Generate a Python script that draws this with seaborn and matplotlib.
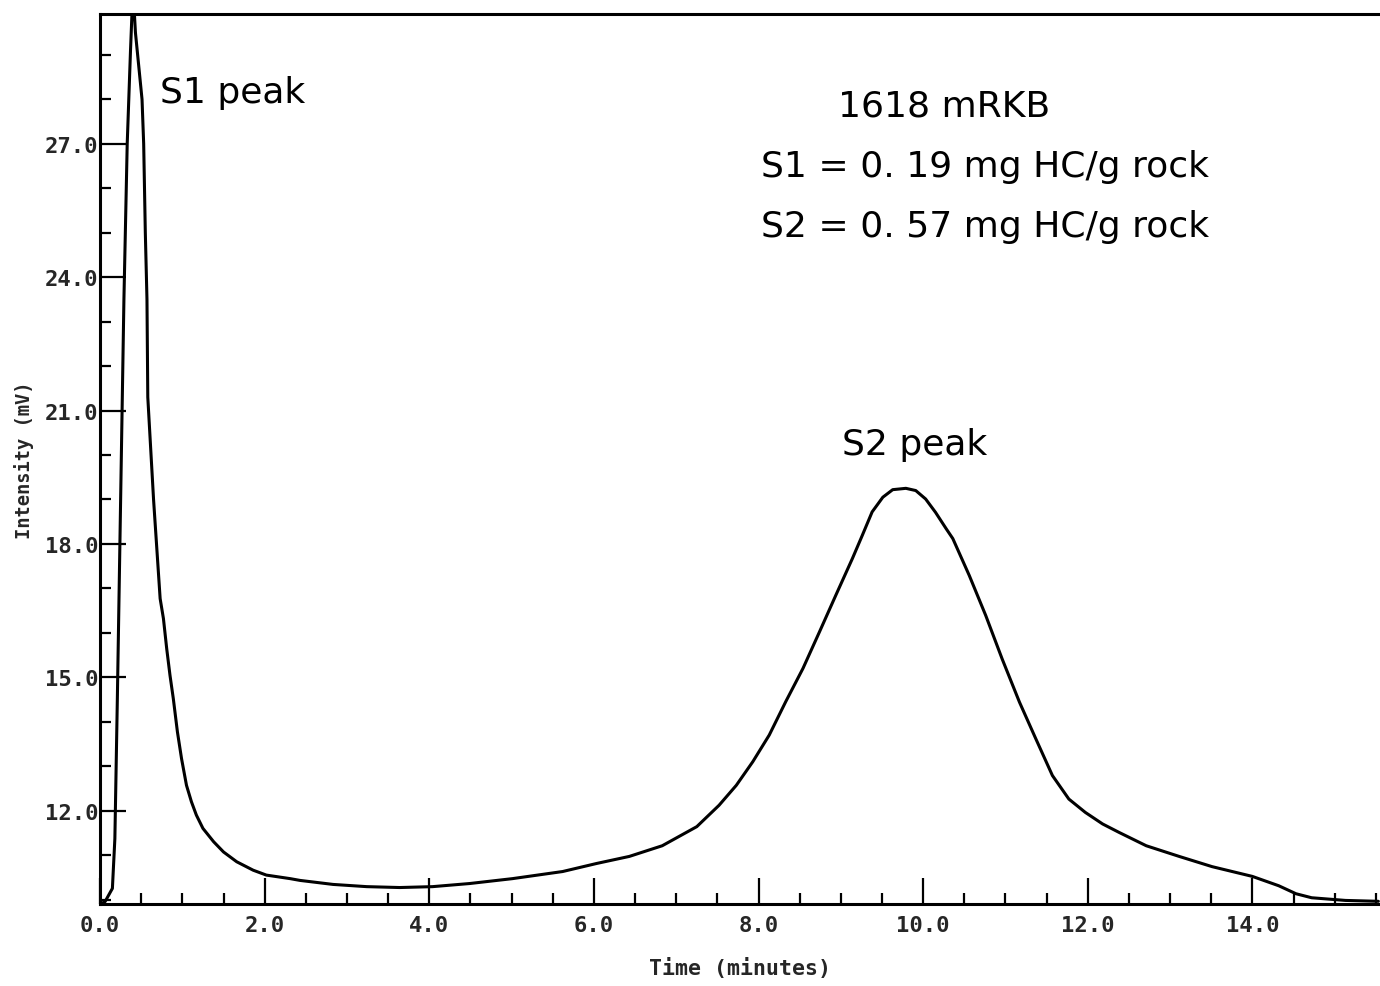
import numpy as np
import matplotlib
matplotlib.use('Agg')
import matplotlib.pyplot as plt
import pandas as pd
import seaborn as sns
from matplotlib.ticker import MultipleLocator, FormatStrFormatter

sns.set_style('ticks')
plt.rcParams['font.family'] = ['DejaVu Sans']

# pyrolysis trace: time (minutes) vs intensity (mV)
time_min = [0.00, 0.06, 0.15, 0.18, 0.21, 0.25, 0.29, 0.33, 0.37, 0.40,
            0.43, 0.51, 0.53, 0.55, 0.57, 0.58, 0.65, 0.73, 0.77, 0.81,
            0.85, 0.89, 0.94, 0.99, 1.05, 1.11, 1.17, 1.25, 1.38, 1.50,
            1.66, 1.86, 2.02, 2.31, 2.43, 2.83, 3.24, 3.64, 4.04, 4.49,
            5.01, 5.62, 6.03, 6.43, 6.83, 7.25, 7.52, 7.73, 7.93, 8.13,
            8.33, 8.54, 8.74, 8.94, 9.14, 9.26, 9.38, 9.51, 9.63, 9.79,
            9.91, 10.03, 10.15, 10.28, 10.36, 10.56, 10.76, 10.96, 11.17, 11.37,
            11.57, 11.77, 11.97, 12.18, 12.38, 12.71, 13.11, 13.51, 14.00, 14.32,
            14.53, 14.72, 15.13, 15.53]
intensity_mv = [9.90, 9.95, 10.25, 11.37, 14.50, 19.00, 23.50, 27.00, 29.10, 30.50,
                29.50, 28.00, 27.00, 25.00, 23.50, 21.30, 19.00, 16.77, 16.32, 15.64,
                15.04, 14.52, 13.77, 13.17, 12.57, 12.20, 11.90, 11.60, 11.30, 11.07,
                10.85, 10.66, 10.55, 10.47, 10.43, 10.34, 10.29, 10.27, 10.29, 10.36,
                10.47, 10.63, 10.81, 10.97, 11.21, 11.64, 12.12, 12.57, 13.10, 13.70,
                14.45, 15.20, 16.02, 16.85, 17.67, 18.19, 18.72, 19.05, 19.22, 19.25,
                19.20, 19.01, 18.71, 18.34, 18.12, 17.29, 16.39, 15.41, 14.44, 13.61,
                12.79, 12.26, 11.96, 11.70, 11.51, 11.21, 10.97, 10.74, 10.52, 10.31,
                10.13, 10.04, 9.98, 9.96]

sample_name = '1618 mRKB'
s1_text = 'S1 = 0. 19 mg HC/g rock'
s2_text = 'S2 = 0. 57 mg HC/g rock'

df = pd.DataFrame({'Time': time_min, 'Intensity': intensity_mv})

fig = plt.figure(figsize=(13.8, 9.87), dpi=100)
ax = fig.add_axes([0.0725, 0.0831, 0.9275, 0.9017])

sns.lineplot(data=df, x='Time', y='Intensity', ax=ax, color='black',
             linewidth=2.2, estimator=None, sort=False)

ax.set_xlim(0, 15.55)
ax.set_ylim(9.9, 29.92)

ax.xaxis.set_major_locator(MultipleLocator(2.0))
ax.xaxis.set_minor_locator(MultipleLocator(0.5))
ax.yaxis.set_minor_locator(MultipleLocator(1.0))
ax.xaxis.set_major_formatter(FormatStrFormatter('%.1f'))
ax.yaxis.set_major_formatter(FormatStrFormatter('%.1f'))
ax.set_yticks([12, 15, 18, 21, 24, 27])

ax.tick_params(which='major', direction='in', length=19, width=1.6,
               color='black')
ax.tick_params(which='minor', direction='in', length=8, width=1.6,
               color='black')
ax.tick_params(axis='x', which='major', pad=8)
ax.tick_params(axis='y', which='major', pad=1)
for lab in ax.get_xticklabels() + ax.get_yticklabels():
    lab.set_family('DejaVu Sans Mono')
    lab.set_fontweight('bold')
    lab.set_fontsize(16)

for side in ['left', 'bottom', 'top']:
    ax.spines[side].set_linewidth(2.2)
    ax.spines[side].set_color('black')
ax.spines['right'].set_visible(False)

ax.set_xlabel('Time (minutes)', family='DejaVu Sans Mono', fontweight='bold',
              fontsize=15.5, labelpad=16)
ax.set_ylabel('Intensity (mV)', family='DejaVu Sans Mono', fontweight='bold',
              fontsize=13.5, labelpad=8)

txt = dict(family='DejaVu Sans', fontsize=26, color='black')
ax.text(0.73, 27.94, 'S1 peak', ha='left', va='baseline', **txt)
ax.text(9.9, 20.03, 'S2 peak', ha='center', va='baseline', **txt)
ax.text(10.25, 27.63, sample_name, ha='center', va='baseline', **txt)
ax.text(8.03, 26.28, s1_text, ha='left', va='baseline', **txt)
ax.text(8.03, 24.93, s2_text, ha='left', va='baseline', **txt)

fig.savefig('out.png', dpi=100, facecolor='white')
